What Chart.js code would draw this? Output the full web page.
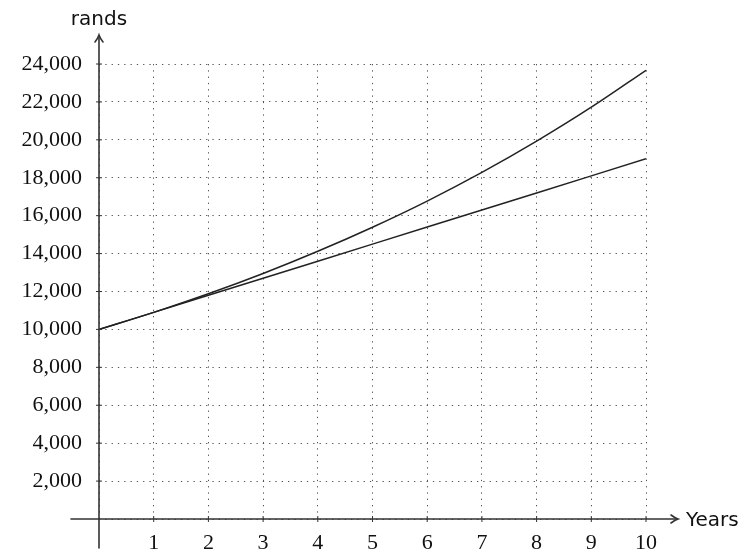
<!DOCTYPE html>
<html>
<head>
<meta charset="utf-8">
<script src="https://cdn.jsdelivr.net/npm/chart.js@4"></script>
<style>
  html, body { margin: 0; padding: 0; background: #fff; }
  #wrap { width: 741px; height: 552px; }
</style>
</head>
<body>
<div id="wrap"><canvas id="chart" width="741" height="552"></canvas></div>
<script>
const ctx = document.getElementById('chart').getContext('2d');

// values, one per year
const years = [0, 1, 2, 3, 4, 5, 6, 7, 8, 9, 10];
const simpleRands = [10000, 10900, 11800, 12700, 13600, 14500, 15400, 16300, 17200, 18100, 19000];
const compoundRands = [10000, 10900, 11880, 12950, 14120, 15390, 16770, 18280, 19930, 21720, 23670];

const xTicks = [1, 2, 3, 4, 5, 6, 7, 8, 9, 10];
const yTicks = [2000, 4000, 6000, 8000, 10000, 12000, 14000, 16000, 18000, 20000, 22000, 24000];
const xLabel = 'Years';
const yLabel = 'rands';

const toPoints = vals => vals.map((v, i) => ({x: years[i], y: v}));

// arrows, axis lines and little tick marks
const axesPlugin = {
    id: 'axes',
    afterDatasetsDraw(chart) {
        const c = chart.ctx;
        const xs = chart.scales.x, ys = chart.scales.y;
        const x0 = xs.getPixelForValue(0), y0 = ys.getPixelForValue(0);
        c.save();
        c.strokeStyle = '#333';
        c.lineWidth = 1.6;
        c.lineCap = 'round';

        // x axis
        c.beginPath();
        c.moveTo(x0 - 28, y0);
        c.lineTo(xs.right + 31, y0);
        c.stroke();
        // y axis
        c.beginPath();
        c.moveTo(x0, y0 + 29);
        c.lineTo(x0, ys.top - 28);
        c.stroke();

        // arrow heads (open chevrons)
        const ax = xs.right + 32;
        c.beginPath();
        c.moveTo(ax - 7, y0 - 4);
        c.quadraticCurveTo(ax - 3, y0 - 1, ax, y0);
        c.quadraticCurveTo(ax - 3, y0 + 1, ax - 7, y0 + 4);
        c.stroke();
        const ay = ys.top - 29;
        c.beginPath();
        c.moveTo(x0 - 4, ay + 7);
        c.quadraticCurveTo(x0 - 1, ay + 3, x0, ay);
        c.quadraticCurveTo(x0 + 1, ay + 3, x0 + 4, ay + 7);
        c.stroke();

        // tick marks
        c.lineWidth = 1;
        c.lineCap = 'butt';
        xTicks.forEach(t => {
            const px = xs.getPixelForValue(t);
            c.beginPath();
            c.moveTo(px, y0 - 3);
            c.lineTo(px, y0 + 3);
            c.stroke();
        });
        yTicks.forEach(t => {
            const py = ys.getPixelForValue(t);
            c.beginPath();
            c.moveTo(x0 - 3, py);
            c.lineTo(x0 + 3, py);
            c.stroke();
        });

        // axis names
        c.fillStyle = '#111';
        c.font = '20px "DejaVu Sans"';
        c.textBaseline = 'alphabetic';
        c.textAlign = 'center';
        c.fillText(yLabel, x0, 25);
        c.textAlign = 'left';
        c.fillText(xLabel, xs.right + 40, y0 + 7);
        c.restore();
    }
};

const lineStyle = {
    borderColor: '#222',
    borderWidth: 1.5,
    pointRadius: 0,
    fill: false,
    cubicInterpolationMode: 'monotone'
};

new Chart(ctx, {
    type: 'line',
    data: {
        datasets: [
            Object.assign({label: 'Compound', data: toPoints(compoundRands)}, lineStyle),
            Object.assign({label: 'Simple', data: toPoints(simpleRands)}, lineStyle)
        ]
    },
    options: {
        responsive: false,
        animation: false,
        layout: { padding: { left: 0, right: 95, top: 64, bottom: 0 } },
        plugins: { legend: { display: false }, tooltip: { enabled: false } },
        scales: {
            x: {
                type: 'linear',
                min: 0, max: 10,
                afterFit(scale) { scale.height = 33; },
                afterBuildTicks(scale) { scale.ticks = [0].concat(xTicks).map(v => ({value: v})); },
                border: { display: false, dash: [1.3, 5] },
                grid: { drawTicks: false, color: '#555', lineWidth: 1 },
                ticks: {
                    padding: 11,
                    color: '#111',
                    font: { family: '"Liberation Serif"', size: 22 },
                    callback: v => v === 0 ? '' : String(v)
                }
            },
            y: {
                type: 'linear',
                min: 0, max: 24000,
                afterFit(scale) { scale.width = 99; },
                afterBuildTicks(scale) { scale.ticks = [0].concat(yTicks).map(v => ({value: v})); },
                border: { display: false, dash: [1.3, 5] },
                grid: { drawTicks: false, color: '#555', lineWidth: 1 },
                ticks: {
                    padding: 17,
                    color: '#111',
                    font: { family: '"Liberation Serif"', size: 22 },
                    callback: v => v === 0 ? '' : v.toLocaleString('en-US')
                }
            }
        }
    },
    plugins: [axesPlugin]
});
</script>
</body>
</html>
